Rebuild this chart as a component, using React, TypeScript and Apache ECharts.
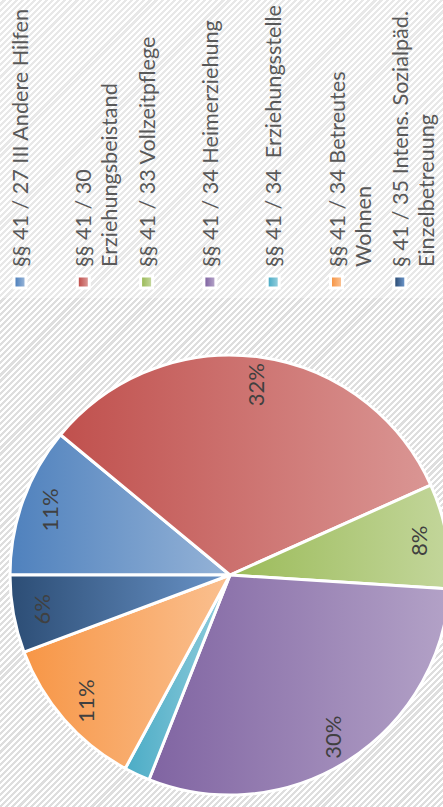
import React, { useEffect, useRef } from "react";
import * as echarts from "echarts";

const categories = [
  "§§ 41 / 27 III Andere Hilfen",
  "§§ 41 / 30\nErziehungsbeistand",
  "§§ 41 / 33 Vollzeitpflege",
  "§§ 41 / 34 Heimerziehung",
  "§§ 41 / 34  Erziehungsstelle",
  "§§ 41 / 34 Betreutes\nWohnen",
  "§ 41 / 35 Intens. Sozialpäd.\nEinzelbetreuung",
];
const values = [11.0, 32.3, 7.7, 30.0, 1.9, 11.4, 5.7];
const showLabel = [true, true, true, true, false, true, true];
const darkColors = ["#4F81BD", "#C0504D", "#9BBB59", "#8064A2", "#4BACC6", "#F79646", "#2C4D75"];
const lightColors = ["#95B3D7", "#DA9694", "#C3D69B", "#B3A2C7", "#92CDDC", "#FAC090", "#6A94C8"];

const grad = (i: number) =>
  new echarts.graphic.LinearGradient(0, 0, 0, 1, [
    { offset: 0, color: darkColors[i] },
    { offset: 1, color: lightColors[i] },
  ]);

export default function App() {
  const ref = useRef<HTMLDivElement>(null);
  useEffect(() => {
    if (!ref.current) return;
    const chart = echarts.init(ref.current, null, { renderer: "svg" });
    const font = "Lato, 'Open Sans', sans-serif";
    const legendItems: any[] = [];
    categories.forEach((name, i) => {
      legendItems.push({
        type: "group",
        x: 525,
        y: 20 + 63.3 * i,
        children: [
          { type: "rect", shape: { x: -7.5, y: -7.5, width: 15, height: 15 }, style: { fill: "#ffffff" } },
          { type: "rect", shape: { x: -4.5, y: -4.5, width: 9, height: 9 }, style: { fill: grad(i) } },
          {
            type: "text",
            x: 15,
            y: -13,
            style: {
              text: name,
              fill: "#595959",
              fontFamily: font,
              fontSize: 21.6,
              lineHeight: 26,
              verticalAlign: "top",
              align: "left",
            },
          },
        ],
      });
    });
    const pieData = values.map((v, i) => ({
      name: categories[i],
      value: v,
      itemStyle: { color: grad(i) },
    }));
    const labelData = values.map((v, i) => ({
      name: categories[i],
      value: v,
      label: { show: showLabel[i] },
    }));
    chart.setOption({
      animation: false,
      backgroundColor: "transparent",
      graphic: [
        {
          type: "rect",
          shape: { x: 509, y: 0, width: 298, height: 443 },
          style: { fill: "rgba(255,255,255,0.3)" },
          silent: true,
        },
        ...legendItems,
      ],
      series: [
        {
          type: "pie",
          center: [232, 230],
          radius: 220,
          startAngle: 90,
          clockwise: true,
          silent: true,
          label: { show: false },
          labelLine: { show: false },
          itemStyle: { borderColor: "#ffffff", borderWidth: 3 },
          data: pieData,
        },
        {
          type: "pie",
          center: [232, 230],
          radius: [158, 220],
          startAngle: 90,
          clockwise: true,
          silent: true,
          itemStyle: { color: "transparent" },
          labelLine: { show: false },
          label: {
            show: true,
            position: "inside",
            color: "#404040",
            fontFamily: font,
            fontSize: 22,
            formatter: (p: any) => Math.round(p.percent) + "%",
          },
          data: labelData,
        },
      ],
    });
    return () => chart.dispose();
  }, []);

  return (
    <div
      style={{
        position: "fixed",
        left: 0,
        top: 0,
        width: 443,
        height: 807,
        overflow: "hidden",
        background:
          "repeating-linear-gradient(135deg, #ffffff 0px, #ffffff 2.1px, #dedede 2.1px, #dedede 4.3px)",
      }}
    >
      <div
        ref={ref}
        style={{
          position: "absolute",
          left: 0,
          top: 0,
          width: 807,
          height: 443,
          transformOrigin: "0 0",
          transform: "translate(0px, 807px) rotate(-90deg)",
        }}
      />
    </div>
  );
}
